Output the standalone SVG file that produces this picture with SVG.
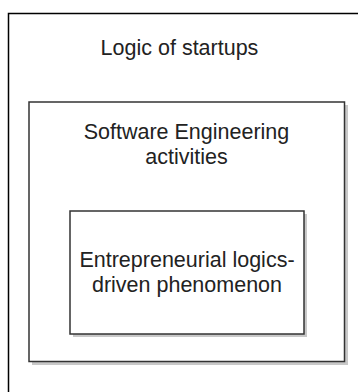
<svg xmlns="http://www.w3.org/2000/svg" width="358" height="392" viewBox="0 0 358 392">
<style>
.lbl{font-family:"Liberation Sans",Arial,sans-serif;font-size:21.5px;fill:#222;text-anchor:middle}
.box{fill:#fff;stroke:#333;stroke-width:1.5}
.shadow{fill:#c8c8c8;stroke:none}
</style>
<rect width="358" height="392" fill="#fff"/>
<g id="outer">
<rect x="8.5" y="13.5" width="360" height="390" fill="#fff" stroke="#000" stroke-width="1.5"/>
<text class="lbl" x="179.5" y="55">Logic of startups</text>
</g>
<g id="middle">
<rect class="shadow" x="32" y="105" width="316" height="260"/>
<rect class="box" x="29" y="102" width="315.5" height="259.5"/>
<text class="lbl" x="186.5" y="138.5">Software Engineering</text>
<text class="lbl" x="186.5" y="163.5">activities</text>
</g>
<g id="inner">
<rect class="shadow" x="73" y="214" width="234" height="123"/>
<rect class="box" x="70" y="211" width="234" height="123"/>
<text class="lbl" x="187" y="266.7">Entrepreneurial logics-</text>
<text class="lbl" x="187" y="291.7">driven phenomenon</text>
</g>
<g id="connectors"/>
</svg>
